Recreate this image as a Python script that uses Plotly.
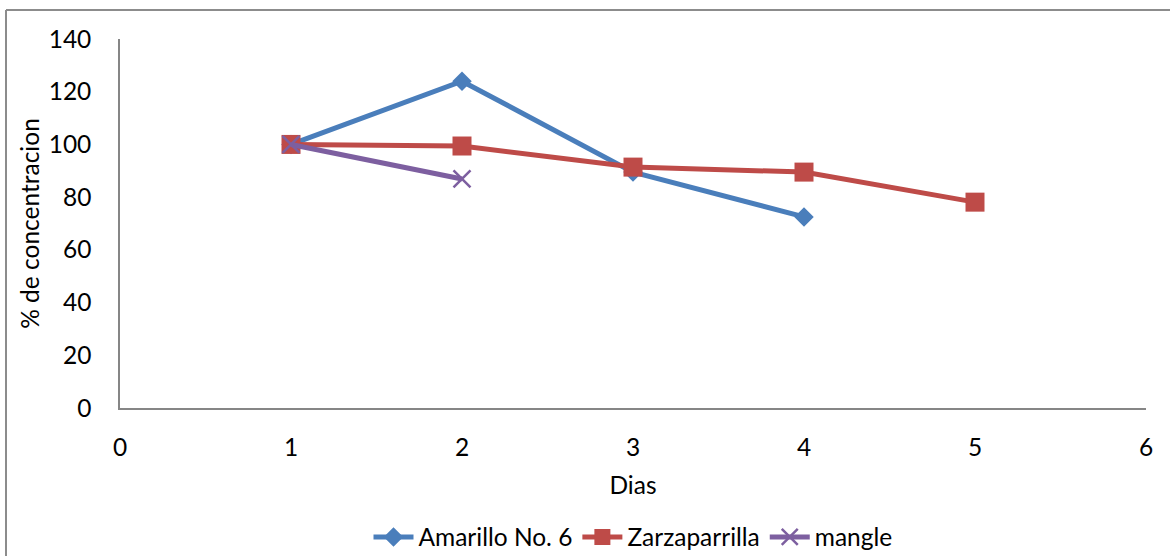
import plotly.graph_objects as go

dias_amarillo = [1, 2, 3, 4]
amarillo = [100, 124, 89.5, 72.5]
dias_zarza = [1, 2, 3, 4, 5]
zarza = [100, 99.4, 91.4, 89.5, 78.1]
dias_mangle = [1, 2]
mangle = [100, 86.9]

x_ticks = [0, 1, 2, 3, 4, 5, 6]
y_ticks = [0, 20, 40, 60, 80, 100, 120, 140]

FONT = "Lato, Open Sans, sans-serif"
FS = 24.5

fig = go.Figure()
fig.add_trace(go.Scatter(x=dias_amarillo, y=amarillo, name="Amarillo No. 6",
                         mode="lines+markers",
                         line=dict(color="#4A7EBB", width=5),
                         marker=dict(symbol="diamond", size=15, color="#4A7EBB")))
fig.add_trace(go.Scatter(x=dias_zarza, y=zarza, name="Zarzaparrilla",
                         mode="lines+markers",
                         line=dict(color="#BE4B48", width=5),
                         marker=dict(symbol="square", size=19, color="#BE4B48")))
fig.add_trace(go.Scatter(x=dias_mangle, y=mangle, name="mangle",
                         mode="lines+markers",
                         line=dict(color="#7D5FA0", width=5),
                         marker=dict(symbol="x-thin", size=17,
                                     line=dict(color="#7D5FA0", width=2.5))))

W, H = 1170, 556
L, R, T, B = 120, 24, 39, 148
pw, ph = W - L - R, H - T - B

def px(x):
    return (x - L) / pw

def py(y):
    return (H - B - y) / ph

fig.update_layout(
    width=W, height=H,
    margin=dict(l=L, r=R, t=T, b=B, autoexpand=False),
    paper_bgcolor="white", plot_bgcolor="white",
    font=dict(family=FONT, size=FS, color="#000000"),
    showlegend=True,
    legend=dict(orientation="h", x=0.5, xanchor="center",
                y=py(537), yanchor="middle",
                font=dict(size=FS), itemwidth=40, tracegroupgap=0),
    xaxis=dict(range=[0, 6], tickvals=x_ticks, showgrid=False, zeroline=False,
               showline=True, linecolor="#868686", linewidth=1.5,
               ticks="", ticklen=0, ticklabelstandoff=17,
               title=dict(text="Dias", standoff=17, font=dict(size=FS))),
    yaxis=dict(range=[0, 140], tickvals=y_ticks, showgrid=False, zeroline=False,
               showline=True, linecolor="#868686", linewidth=1.5,
               ticks="", ticklen=0, ticklabelstandoff=22,
               title=dict(text="% de concentracion", standoff=2, font=dict(size=FS))),
)

# outer chart border (left and top edges visible)
fig.add_shape(type="line", xref="paper", yref="paper",
              x0=px(6), y0=py(H + 5), x1=px(6), y1=py(10),
              line=dict(color="#8C8C8C", width=2))
fig.add_shape(type="line", xref="paper", yref="paper",
              x0=px(6), y0=py(10), x1=px(W + 5), y1=py(10),
              line=dict(color="#8C8C8C", width=2))

fig.write_html("out.html")
